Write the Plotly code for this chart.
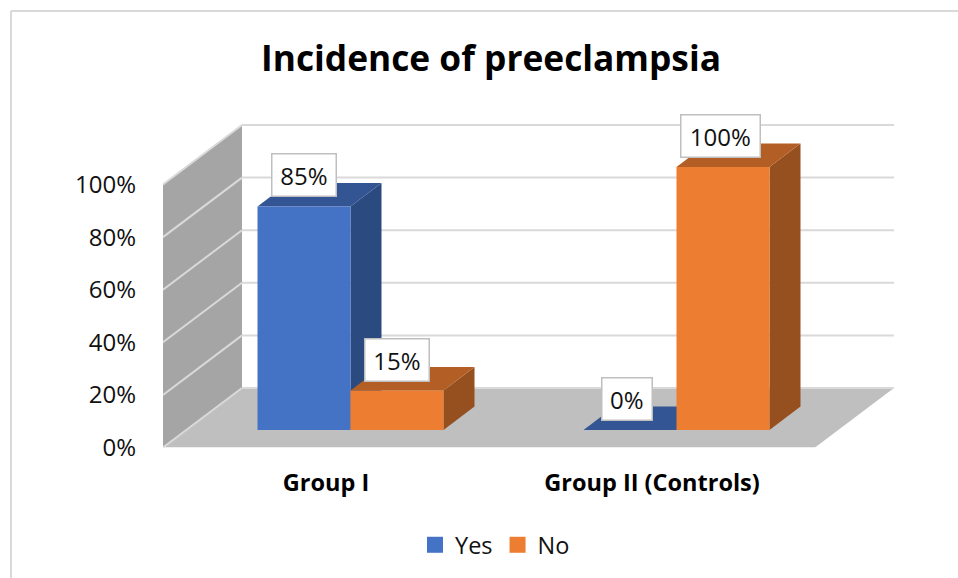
import plotly.graph_objects as go

categories = ["Group I", "Group II (Controls)"]
yes_values = [85, 0]
no_values = [15, 100]
y_ticks = [0, 20, 40, 60, 80, 100]
y_tick_labels = ["0%", "20%", "40%", "60%", "80%", "100%"]

W, H = 958, 578
FONT = "Open Sans"
PX_PER_PCT = 2.63
PX_PER_CAT = 326
AXIS_LEFT, AXIS_BOTTOM = 163, 447.5
TOP_PCT = AXIS_BOTTOM / PX_PER_PCT
RIGHT_CAT = (W - 326) / PX_PER_CAT

WALL_DX, WALL_DY = 79 / PX_PER_CAT, 59.5 / PX_PER_PCT
BAR_DX, BAR_DY = 31 / PX_PER_CAT, 23.5 / PX_PER_PCT
BAR_W = 93 / PX_PER_CAT
BAR_SHIFT = 24.5 / PX_PER_CAT
BAR_BASE = 17.5 / PX_PER_PCT
X0, X1 = -0.5, 1.5
GRID = "#D9D9D9"

fig = go.Figure()


def poly(xs, ys, color):
    fig.add_trace(go.Scatter(x=xs, y=ys, mode="lines", fill="toself", fillcolor=color,
                             line=dict(width=0, color=color), hoverinfo="skip", showlegend=False))


def seg(xs, ys, color=GRID, width=2):
    fig.add_trace(go.Scatter(x=xs, y=ys, mode="lines", line=dict(width=width, color=color),
                             hoverinfo="skip", showlegend=False))


# walls and floor
poly([X0, X0 + WALL_DX, X0 + WALL_DX, X0], [100, 100 + WALL_DY, WALL_DY, 0], "#A5A5A5")
poly([X0, X0 + WALL_DX, X1 + WALL_DX, X1], [0, WALL_DY, WALL_DY, 0], "#BFBFBF")
for t in y_ticks:
    seg([X0 + WALL_DX, X1 + WALL_DX], [t + WALL_DY] * 2)
    seg([X0, X0 + WALL_DX], [t, t + WALL_DY])


# depth faces, back to front
def faces(x_left, value, top_col, side_col):
    x_right = x_left + BAR_W
    top = value + BAR_BASE
    poly([x_right, x_right + BAR_DX, x_right + BAR_DX, x_right],
         [BAR_BASE, BAR_BASE + BAR_DY, top + BAR_DY, top], side_col)
    poly([x_left, x_right, x_right + BAR_DX, x_left + BAR_DX],
         [top, top, top + BAR_DY, top + BAR_DY], top_col)


for i in range(len(categories)):
    c = i + BAR_SHIFT
    faces(c - BAR_W, yes_values[i], "#335593", "#2B4A7F")
    faces(c, no_values[i], "#B35E24", "#964F1E")

# front faces on an overlaid axis so they sit above the depth faces
xpos = [i + BAR_SHIFT for i in range(len(categories))]
fig.add_trace(go.Bar(x=xpos, y=yes_values, base=BAR_BASE, width=BAR_W, offset=-BAR_W, name="Yes",
                     marker=dict(color="#4472C4", line=dict(width=0)), yaxis="y2", showlegend=False))
fig.add_trace(go.Bar(x=xpos, y=no_values, base=BAR_BASE, width=BAR_W, offset=0, name="No",
                     marker=dict(color="#ED7D31", line=dict(width=0)), yaxis="y2", showlegend=False))

# legend keys
for name, col in (("Yes", "#4472C4"), ("No", "#ED7D31")):
    fig.add_trace(go.Scatter(x=[None], y=[None], mode="markers", name=name,
                             marker=dict(symbol="square", size=16, color=col)))

# data labels
annotations = []
for i in range(len(categories)):
    for series, off in ((yes_values, -BAR_W / 2), (no_values, BAR_W / 2)):
        v = series[i]
        text = f"{v}%"
        annotations.append(dict(
            x=i + BAR_SHIFT + off, y=v + BAR_BASE, xref="x", yref="y", text=text, showarrow=False,
            yshift=31, xshift=-3 * i, yanchor="middle", xanchor="center", align="center",
            width=14.5 * len(text) + 11.5, bgcolor="#FFFFFF", bordercolor="#BFBFBF", borderwidth=1.5,
            borderpad=4, font=dict(family=FONT, size=24, color="#111111")))

shapes = [
    dict(type="line", xref="paper", yref="paper", x0=11 / W, x1=1, y0=1 - 11 / H, y1=1 - 11 / H,
         line=dict(color=GRID, width=2)),
    dict(type="line", xref="paper", yref="paper", x0=11 / W, x1=11 / W, y0=0, y1=1 - 11 / H,
         line=dict(color=GRID, width=2)),
]

fig.update_layout(
    width=W, height=H, margin=dict(l=0, r=0, t=0, b=0, autoexpand=False), autosize=False,
    paper_bgcolor="white", plot_bgcolor="white",
    font=dict(family=FONT, color="#111111"),
    barmode="overlay",
    title=dict(text="<b>Incidence of preeclampsia</b>", x=491 / W, xref="container", xanchor="center",
               y=1 - 59 / H, yref="container", yanchor="middle",
               font=dict(family=FONT, size=35.3, color="#000000")),
    xaxis=dict(domain=[AXIS_LEFT / W, 1], range=[X0, RIGHT_CAT], tickmode="array", tickvals=[0, 1],
               ticktext=[f"<b>{c}</b>" for c in categories], showgrid=False, zeroline=False,
               showline=False, ticks="", ticklabelstandoff=19,
               tickfont=dict(family=FONT, size=23.5, color="#000000")),
    yaxis=dict(domain=[(H - AXIS_BOTTOM) / H, 1], range=[0, TOP_PCT], tickmode="array", tickvals=y_ticks,
               ticktext=y_tick_labels, showgrid=False, zeroline=False, showline=False, ticks="",
               ticklabelstandoff=26, tickfont=dict(family=FONT, size=24, color="#111111")),
    yaxis2=dict(domain=[(H - AXIS_BOTTOM) / H, 1], range=[0, TOP_PCT], overlaying="y", visible=False),
    legend=dict(orientation="h", x=495 / W, xanchor="center", y=1 - 545 / H, yanchor="middle",
                font=dict(family=FONT, size=23.5, color="#111111"), bgcolor="rgba(0,0,0,0)",
                traceorder="normal"),
    annotations=annotations,
    shapes=shapes,
)

fig.write_html("out.html", config={"displayModeBar": False, "responsive": False},
               post_script="document.body.style.margin='0';")
